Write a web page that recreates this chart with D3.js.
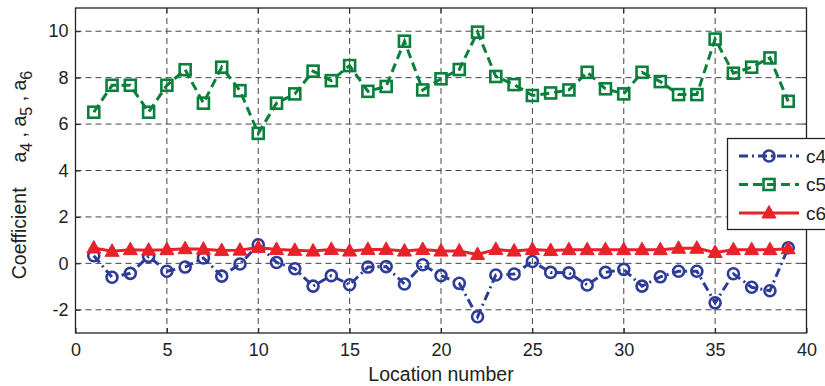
<!DOCTYPE html>
<html>
<head>
<meta charset="utf-8">
<style>
  body { margin: 0; background: #fff; }
  svg { font-family: Arial, "Liberation Sans", Helvetica, sans-serif; }
</style>
</head>
<body>
<script src="https://cdn.jsdelivr.net/npm/d3@7/dist/d3.min.js"></script>
<script>
// data
var locations = d3.range(1, 40);
var c4 = [0.33, -0.6, -0.43, 0.3, -0.34, -0.16, 0.23, -0.55, -0.03, 0.8,
          0.04, -0.23, -0.98, -0.53, -0.92, -0.16, -0.14, -0.89, -0.06, -0.53,
          -0.86, -2.3, -0.5, -0.46, 0.08, -0.39, -0.41, -0.93, -0.39, -0.26,
          -0.98, -0.58, -0.34, -0.34, -1.7, -0.45, -1.03, -1.18, 0.67];
var c5 = [6.51, 7.67, 7.67, 6.51, 7.67, 8.34, 6.9, 8.45, 7.44, 5.6,
          6.9, 7.3, 8.28, 7.87, 8.52, 7.41, 7.62, 9.57, 7.47, 7.95,
          8.35, 9.96, 8.05, 7.7, 7.23, 7.34, 7.47, 8.23, 7.52, 7.3,
          8.23, 7.83, 7.27, 7.27, 9.66, 8.19, 8.45, 8.85, 6.98];
var c6 = [0.66, 0.52, 0.59, 0.57, 0.59, 0.63, 0.61, 0.55, 0.57, 0.68,
          0.6, 0.56, 0.53, 0.6, 0.53, 0.6, 0.6, 0.53, 0.6, 0.53,
          0.53, 0.38, 0.6, 0.53, 0.6, 0.55, 0.59, 0.59, 0.59, 0.59,
          0.59, 0.59, 0.65, 0.65, 0.47, 0.59, 0.59, 0.59, 0.63];
var xTicks = [0, 5, 10, 15, 20, 25, 30, 35, 40];
var yTicks = [-2, 0, 2, 4, 6, 8, 10];
var seriesNames = ["c4", "c5", "c6"];

var w = 825, h = 386;
var mLeft = 75.5, mRight = 806.5, mTop = 8, mBottom = 333;

var svg = d3.select("body").append("svg")
    .attr("width", w)
    .attr("height", h);

var x = d3.scaleLinear().domain([0, 40]).range([mLeft, mRight]);
var y = d3.scaleLinear().domain([-3, 11]).range([mBottom, mTop]);

// grid
svg.append("g").selectAll("line")
    .data(xTicks.slice(1, -1))
    .enter().append("line")
    .attr("x1", function(d) { return x(d); })
    .attr("x2", function(d) { return x(d); })
    .attr("y1", mTop).attr("y2", mBottom)
    .attr("stroke", "#444").attr("stroke-width", 1)
    .attr("stroke-dasharray", "6,4");
svg.append("g").selectAll("line")
    .data(yTicks)
    .enter().append("line")
    .attr("y1", function(d) { return y(d); })
    .attr("y2", function(d) { return y(d); })
    .attr("x1", mLeft).attr("x2", mRight)
    .attr("stroke", "#444").attr("stroke-width", 1)
    .attr("stroke-dasharray", "6,4");

// axes (ticks point inward, like the original); plain hyphen for negatives
var fmt = function(d) { return String(d); };
var xAxis = d3.axisBottom(x).tickValues(xTicks).tickFormat(fmt).tickSizeInner(-5).tickSizeOuter(0).tickPadding(10);
var yAxis = d3.axisLeft(y).tickValues(yTicks).tickFormat(fmt).tickSizeInner(-5).tickSizeOuter(0).tickPadding(7);

var gx = svg.append("g").attr("transform", "translate(0," + mBottom + ")").call(xAxis);
var gy = svg.append("g").attr("transform", "translate(" + mLeft + ",0)").call(yAxis);
[gx, gy].forEach(function(g) {
  g.selectAll("text").attr("font-size", 18).attr("fill", "#222")
   .attr("font-family", "Arial, 'Liberation Sans', sans-serif");
  g.selectAll("line").attr("stroke", "#222");
  g.select(".domain").remove();
});
gx.selectAll("text").attr("dy", "0.71em");

// top / right ticks
svg.append("g").selectAll("line").data(xTicks).enter().append("line")
    .attr("x1", function(d) { return x(d); }).attr("x2", function(d) { return x(d); })
    .attr("y1", mTop).attr("y2", mTop + 5).attr("stroke", "#222");
svg.append("g").selectAll("line").data(yTicks).enter().append("line")
    .attr("y1", function(d) { return y(d); }).attr("y2", function(d) { return y(d); })
    .attr("x1", mRight).attr("x2", mRight - 5).attr("stroke", "#222");

// frame
svg.append("rect")
    .attr("x", mLeft).attr("y", mTop)
    .attr("width", mRight - mLeft).attr("height", mBottom - mTop)
    .attr("fill", "none").attr("stroke", "#222").attr("stroke-width", 1.3);

var styles = {
  c4: { color: "#2e3c99", dash: "9,4,2,4", marker: "circle" },
  c5: { color: "#0b7f3c", dash: "9,5", marker: "square" },
  c6: { color: "#e8212a", dash: null, marker: "triangle" }
};
var values = { c4: c4, c5: c5, c6: c6 };

function drawMarker(g, kind, color) {
  if (kind === "circle") {
    g.append("circle").attr("r", 5.5).attr("fill", "none")
     .attr("stroke", color).attr("stroke-width", 2.6);
  } else if (kind === "square") {
    g.append("rect").attr("x", -5.5).attr("y", -5.5).attr("width", 11).attr("height", 11)
     .attr("fill", "none").attr("stroke", color).attr("stroke-width", 2.6);
  } else {
    g.append("path").attr("d", "M0,-7.5L7,5L-7,5Z").attr("fill", color)
     .attr("stroke", color).attr("stroke-width", 1);
  }
}

var line = d3.line()
    .x(function(d, i) { return x(locations[i]); })
    .y(function(d) { return y(d); });

seriesNames.forEach(function(name) {
  var s = styles[name];
  svg.append("path")
      .datum(values[name])
      .attr("d", line)
      .attr("fill", "none")
      .attr("stroke", s.color)
      .attr("stroke-width", 3)
      .attr("stroke-dasharray", s.dash);
  svg.append("g").selectAll("g")
      .data(values[name])
      .enter().append("g")
      .attr("transform", function(d, i) { return "translate(" + x(locations[i]) + "," + y(d) + ")"; })
      .each(function() { drawMarker(d3.select(this), s.marker, s.color); });
});

// legend (runs off the right edge as in the original)
var leg = svg.append("g");
leg.append("rect")
    .attr("x", 727.5).attr("y", 138.5).attr("width", 120).attr("height", 91)
    .attr("fill", "#fff").attr("stroke", "#222").attr("stroke-width", 1.3);
seriesNames.forEach(function(name, i) {
  var s = styles[name];
  var ly = 156 + i * 28.5;
  leg.append("line")
      .attr("x1", 739).attr("x2", 799).attr("y1", ly).attr("y2", ly)
      .attr("stroke", s.color).attr("stroke-width", 3)
      .attr("stroke-dasharray", s.dash);
  var mg = leg.append("g").attr("transform", "translate(769," + ly + ")");
  drawMarker(mg, s.marker, s.color);
  leg.append("text")
      .attr("x", 806).attr("y", ly).attr("dy", "0.35em")
      .attr("font-size", 19).attr("fill", "#222")
      .text(name);
});

// axis labels
svg.append("text")
    .attr("x", (mLeft + mRight) / 2).attr("y", 381)
    .attr("text-anchor", "middle")
    .attr("font-size", 19.5).attr("fill", "#222")
    .text("Location number");

var yl = svg.append("text")
    .attr("transform", "translate(26,175) rotate(-90)")
    .attr("text-anchor", "middle")
    .attr("font-size", 19.5).attr("fill", "#222");
yl.append("tspan").text("Coefficient\u2003 a");
yl.append("tspan").attr("dy", 6).attr("font-size", 16).text("4");
yl.append("tspan").attr("dy", -6).text(" , a");
yl.append("tspan").attr("dy", 6).attr("font-size", 16).text("5");
yl.append("tspan").attr("dy", -6).text(" , a");
yl.append("tspan").attr("dy", 6).attr("font-size", 16).text("6");
</script>
</body>
</html>
